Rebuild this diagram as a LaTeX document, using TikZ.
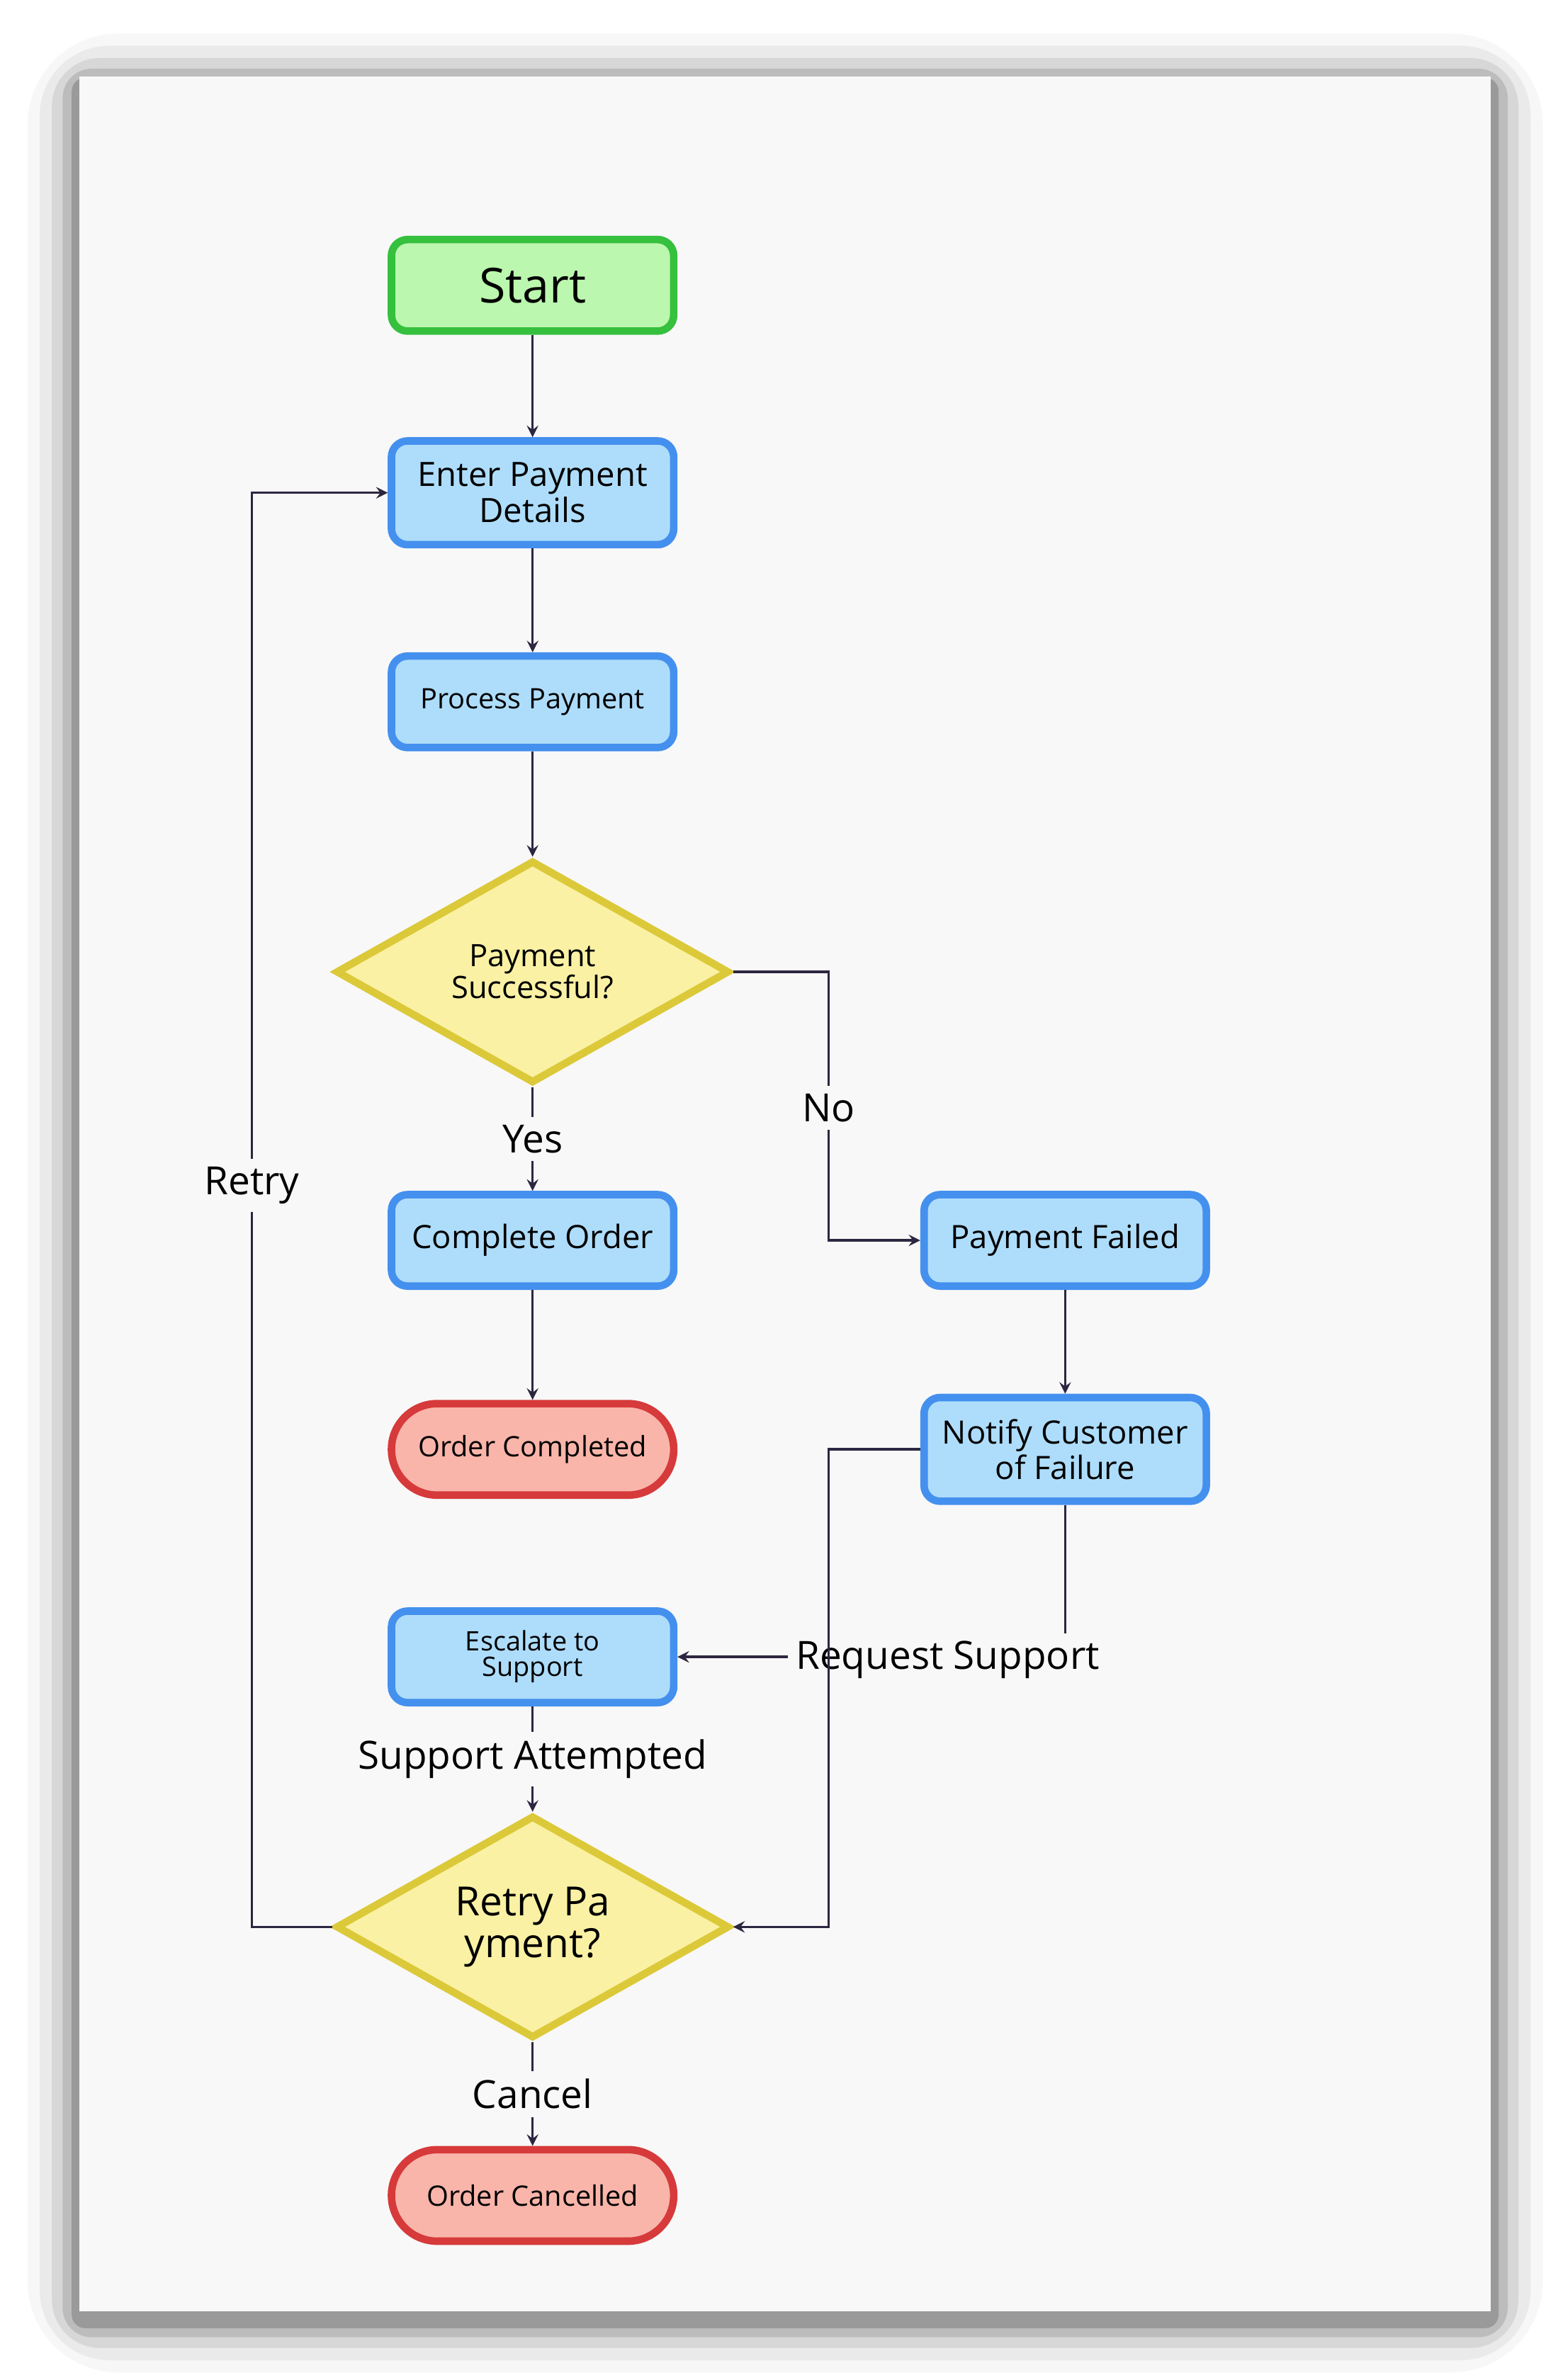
\documentclass[tikz,border=0pt]{standalone}
\usepackage{fontspec}
\setmainfont{Open Sans}
\usetikzlibrary{shapes.geometric}
\usetikzlibrary{calc}
\definecolor{pagebg}{HTML}{F8F8F8}
\definecolor{linec}{HTML}{2D2640}
\definecolor{stepfill}{HTML}{AEDDFB}
\definecolor{stepdraw}{HTML}{4490EE}
\definecolor{startfill}{HTML}{BBF7AE}
\definecolor{startdraw}{HTML}{35C03E}
\definecolor{endfill}{HTML}{F9B5AA}
\definecolor{enddraw}{HTML}{D63A3A}
\definecolor{askfill}{HTML}{FAF1A4}
\definecolor{askdraw}{HTML}{DCC93A}
\tikzstyle{block} = [draw, rectangle, rounded corners=6pt, line width=2.8pt,
                     text centered, align=center, minimum width=3.7cm,
                     minimum height=1.2cm, inner sep=2pt]
\tikzstyle{task}  = [block, fill=stepfill, draw=stepdraw]
\tikzstyle{begin} = [block, fill=startfill, draw=startdraw, font=\fontsize{18}{20}\selectfont]
\tikzstyle{finish} = [block, fill=endfill, draw=enddraw, rounded corners=0.6cm,
                     font=\fontsize{10.5}{12}\selectfont]
\tikzstyle{split} = [draw=askdraw, fill=askfill, diamond, line width=2.8pt,
                     minimum width=5.16cm, minimum height=2.92cm, inner sep=0pt,
                     align=center, aspect=1.77]
\tikzstyle{tag} = [fill=pagebg, inner sep=3pt, font=\fontsize{14.5}{16}\selectfont]

\begin{document}
\begin{tikzpicture}[x=0.02cm, y=-0.02cm, >=stealth, line width=0.9pt]

% background and page
\useasboundingbox (0,0) rectangle (1024,1560);
\fill[white] (0,0) rectangle (1024,1560);
\foreach \d/\o in {34/0.03, 26/0.05, 18/0.08, 11/0.12, 5/0.18}
  \fill[black, opacity=\o, rounded corners=\d] (52-\d,50-\d+6) rectangle (977+\d,1515+\d+6);
\fill[pagebg] (52,50) rectangle (977,1515);

% add nodes
\node [begin] (start) at (349,187) {Start};
\node [task, minimum height=1.36cm, font=\fontsize{12.5}{12}\selectfont]
      (enter) at (349,323) {Enter Payment\\Details};
\node [task, font=\fontsize{10.5}{12}\selectfont] (proc) at (349,460) {Process Payment};
\node [split, font=\fontsize{11.5}{12}\selectfont] (ok) at (349,637) {Payment\\Successful?};
\node [task, font=\fontsize{12}{12}\selectfont] (comp) at (349,813) {Complete Order};
\node [finish] (done) at (349,950) {Order Completed};
\node [task, font=\fontsize{12}{12}\selectfont] (fail) at (698,813) {Payment Failed};
\node [task, minimum height=1.36cm, font=\fontsize{12}{11}\selectfont]
      (notify) at (698,950) {Notify Customer\\of Failure};
\node [task, font=\fontsize{10}{9.5}\selectfont] (esc) at (349,1086) {Escalate to\\Support};
\node [split, font=\fontsize{15}{14}\selectfont] (retry) at (349,1263) {Retry Pa\\yment?};
\node [finish] (cancel) at (349,1439) {Order Cancelled};

% add connections
\draw[->, linec] (start) -- (enter);
\draw[->, linec] (enter) -- (proc);
\draw[->, linec] (proc) -- (ok);
\draw[->, linec] (ok) -- (comp) node [tag, pos=0.5, text=black] {Yes};
\draw[->, linec] (ok.east) -- (543,637) -- (543,813) -- (fail.west);
\node [tag] (no) at (543,726) {No};
\draw[->, linec] (comp) -- (done);
\draw[->, linec] (fail) -- (notify);
\draw[->, linec] (notify.south) |- (esc.east);
\node [tag] (req) at (621,1088) {Request Support};
\draw[->, linec] (notify.west) -- (543,950) |- (retry.east);
\draw[->, linec] (esc) -- (retry) node [tag, pos=0.5, text=black] {Support Attempted};
\draw[->, linec] (retry.west) -- (165,1263) |- (enter.west);
\node [tag] (again) at (165,777) {Retry};
\draw[->, linec] (retry) -- (cancel) node [tag, pos=0.5, text=black] {Cancel};

\end{tikzpicture}
\end{document}
